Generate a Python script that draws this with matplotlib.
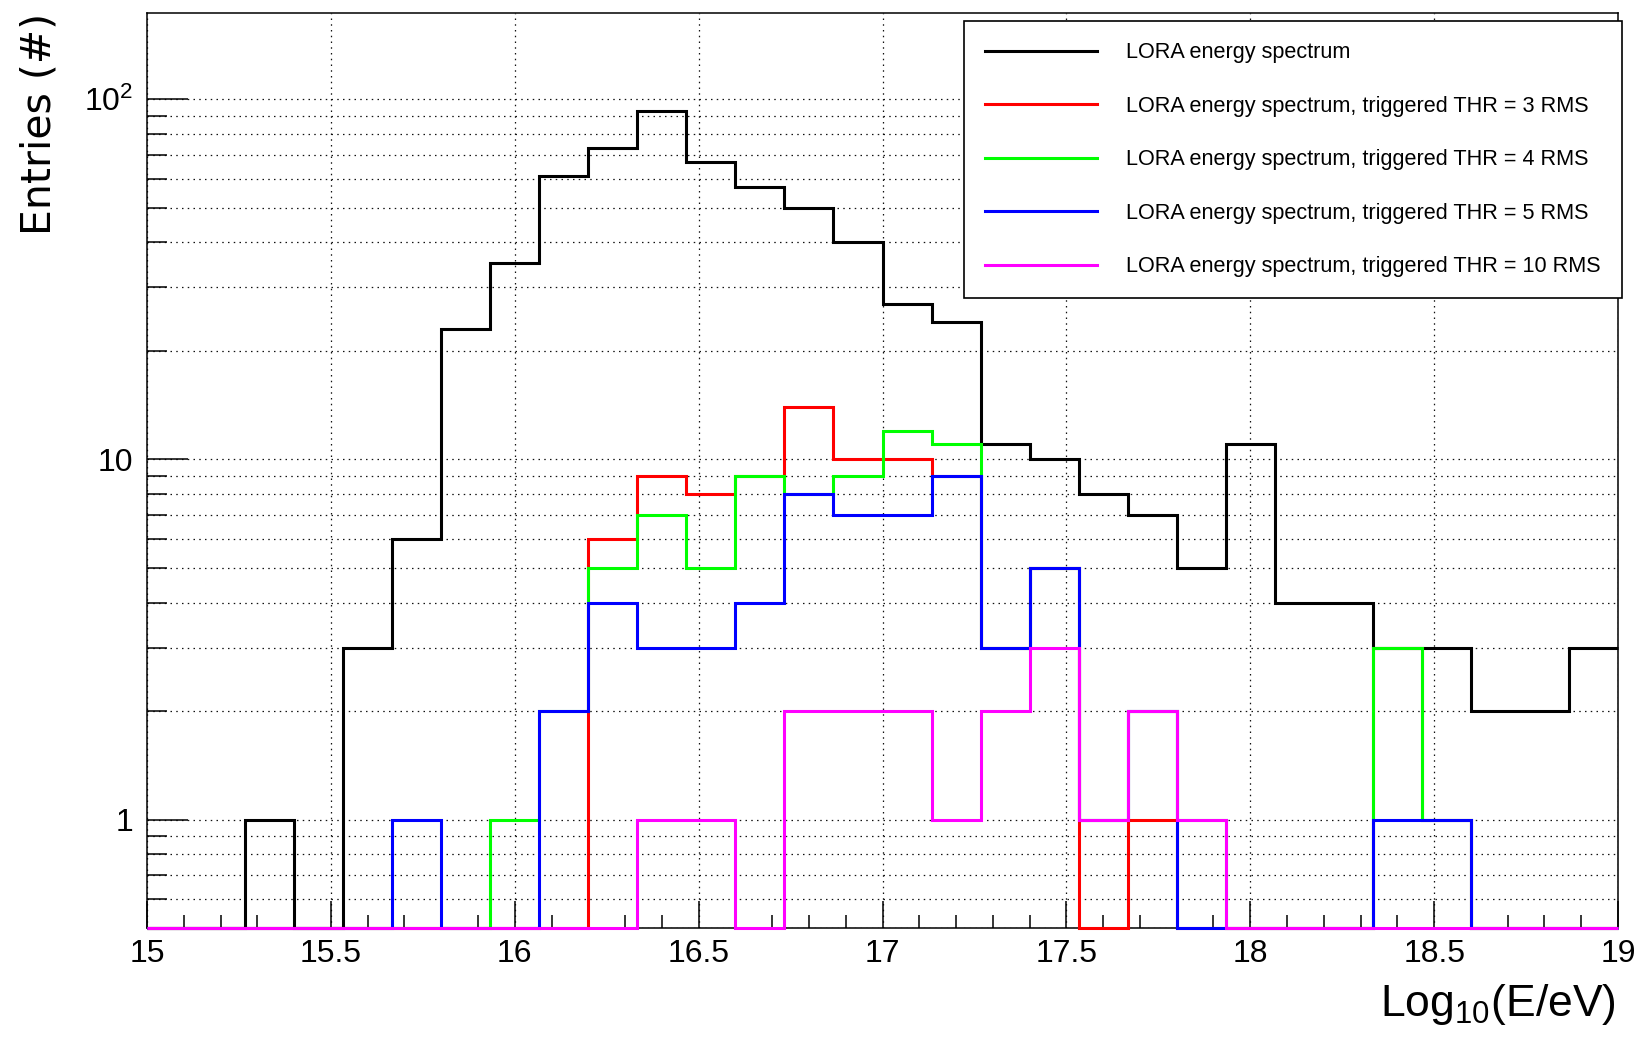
"""LORA energy spectrum together with the triggered subsets for several thresholds."""

import matplotlib

matplotlib.use("Agg")
import matplotlib.pyplot as plt
import numpy as np
from matplotlib import font_manager
from matplotlib.legend_handler import HandlerStepPatch
from matplotlib.patches import StepPatch
from matplotlib.ticker import FixedLocator, LogLocator, MultipleLocator, NullFormatter

# binning in log10(E/eV)
X_MIN, X_MAX, N_BINS = 15.0, 19.0, 30

# entries per bin
lora_all = [0, 0, 1, 0, 3, 6, 23, 35, 61, 73, 93, 67, 57, 50, 40,
            27, 24, 11, 10, 8, 7, 5, 11, 4, 4, 3, 3, 2, 2, 3]
thr3 = [0, 0, 0, 0, 0, 0, 0, 0, 0, 6, 9, 8, 9, 14, 10,
        10, 9, 3, 5, 0, 1, 0, 0, 0, 0, 3, 1, 0, 0, 0]
thr4 = [0, 0, 0, 0, 0, 0, 0, 1, 2, 5, 7, 5, 9, 8, 9,
        12, 11, 3, 5, 1, 2, 1, 0, 0, 0, 3, 1, 0, 0, 0]
thr5 = [0, 0, 0, 0, 0, 1, 0, 0, 2, 4, 3, 3, 4, 8, 7,
        7, 9, 3, 5, 1, 2, 0, 0, 0, 0, 1, 1, 0, 0, 0]
thr10 = [0, 0, 0, 0, 0, 0, 0, 0, 0, 0, 1, 1, 0, 2, 2,
         2, 1, 2, 3, 1, 2, 1, 0, 0, 0, 0, 0, 0, 0, 0]

LABELS = [
    "LORA energy spectrum",
    "LORA energy spectrum, triggered THR = 3 RMS",
    "LORA energy spectrum, triggered THR = 4 RMS",
    "LORA energy spectrum, triggered THR = 5 RMS",
    "LORA energy spectrum, triggered THR = 10 RMS",
]
COLORS = ["#000000", "#ff0000", "#00ff00", "#0000ff", "#ff00ff"]

Y_MIN, Y_MAX = 0.5, 174.0
X_TICKS = [15, 15.5, 16, 16.5, 17, 17.5, 18, 18.5, 19]
X_TICK_LABELS = ["15", "15.5", "16", "16.5", "17", "17.5", "18", "18.5", "19"]
Y_TICKS = [1, 10, 100]
Y_TICK_LABELS = ["1", "10", "$10^{2}$"]

W, H, DPI = 1639, 1042, 100
LW = 2.2

_names = {f.name for f in font_manager.fontManager.ttflist}
FONT = "Liberation Sans Narrow" if "Liberation Sans Narrow" in _names else "Liberation Sans"
plt.rcParams["font.family"] = FONT
plt.rcParams["mathtext.fontset"] = "custom"
plt.rcParams["mathtext.rm"] = FONT
plt.rcParams["mathtext.it"] = FONT + ":italic"
plt.rcParams["mathtext.bf"] = FONT + ":bold"
plt.rcParams["mathtext.default"] = "regular"


def px(x, y):
    """Pixel position -> figure fraction."""
    return x / W, 1 - y / H


def main():
    fig = plt.figure(figsize=(W / DPI, H / DPI), dpi=DPI)
    left, bottom = px(147, 928)
    ax = fig.add_axes([left, bottom, (1618 - 147) / W, (928 - 12.5) / H])

    edges = np.linspace(X_MIN, X_MAX, N_BINS + 1)
    series = [lora_all, thr3, thr4, thr5, thr10]
    for i, (vals, color, label) in enumerate(zip(series, COLORS, LABELS)):
        vals = np.asarray(vals, dtype=float)
        # empty bins sit on the lower edge of the frame
        shown = np.where(vals > 0, vals, Y_MIN)
        ax.stairs(shown, edges, baseline=None, color=color, lw=LW,
                  label=label, zorder=3 + i, clip_on=False, joinstyle="miter")

    ax.set_yscale("log")
    ax.set_xlim(X_MIN, X_MAX)
    ax.set_ylim(Y_MIN, Y_MAX)

    ax.xaxis.set_major_locator(FixedLocator(X_TICKS))
    ax.set_xticklabels(X_TICK_LABELS)
    ax.xaxis.set_minor_locator(MultipleLocator(0.1))
    ax.yaxis.set_major_locator(FixedLocator(Y_TICKS))
    ax.set_yticklabels(Y_TICK_LABELS)
    ax.yaxis.set_minor_locator(LogLocator(base=10, subs=np.arange(2, 10)))
    ax.yaxis.set_minor_formatter(NullFormatter())

    ax.tick_params(axis="x", which="major", direction="in", length=19.5,
                   width=1.1, labelsize=23, pad=8)
    ax.tick_params(axis="x", which="minor", direction="in", length=9.5, width=1.1)
    ax.tick_params(axis="y", which="major", direction="in", length=29.5,
                   width=1.1, labelsize=23, pad=10)
    ax.tick_params(axis="y", which="minor", direction="in", length=14.5, width=1.1)
    for s in ax.spines.values():
        s.set_linewidth(1.1)

    grid_kw = dict(color="#111111", lw=0.9, linestyle=(0, (1.2, 3.4)))
    ax.grid(True, axis="x", which="major", **grid_kw)
    ax.grid(True, axis="y", which="both", **grid_kw)
    ax.set_axisbelow(True)

    ax.set_xlabel("Log$_{10}$(E/eV)", fontsize=32, loc="right")
    ax.xaxis.label.set_va("baseline")
    ax.xaxis.set_label_coords((1616 - 147) / (1618 - 147), (928 - 1016) / (928 - 12.5))

    ax.set_ylabel("Entries (#)", fontsize=29.5, loc="top", family="DejaVu Sans")
    ax.yaxis.label.set_va("center")
    ax.yaxis.set_label_coords((39 - 147) / (1618 - 147), 1.0)

    fs = 15.6
    fs_px = fs * DPI / 72
    pad = 0.98
    leg = ax.legend(
        loc="upper left", bbox_to_anchor=px(964, 21), bbox_transform=fig.transFigure,
        fontsize=fs, frameon=True, fancybox=False, edgecolor="black", framealpha=1,
        borderaxespad=0, borderpad=pad,
        handlelength=(1100 - 964 - pad * fs_px) / fs_px,
        handletextpad=1.2, labelspacing=1.5,
        handler_map={StepPatch: HandlerStepPatch(xpad=(988 - 964 - pad * fs_px) / fs_px)},
    )
    leg.get_frame().set_linewidth(1.2)
    leg.set_zorder(20)

    fig.savefig("out.png", dpi=DPI)
    plt.close(fig)


if __name__ == "__main__":
    main()
